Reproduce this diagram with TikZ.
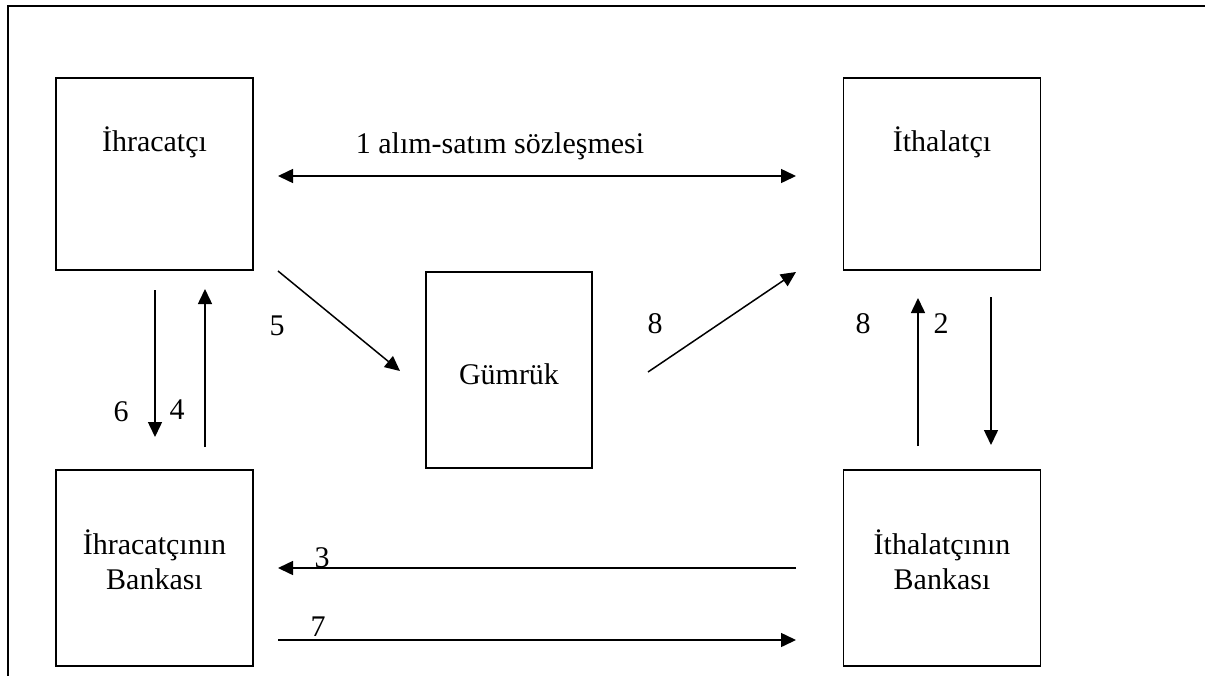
\documentclass[tikz,border=0pt]{standalone}
\usepackage{fontspec}
\setmainfont{Liberation Serif}
\usetikzlibrary{arrows.meta}
\begin{document}
\begin{tikzpicture}[x=1pt,y=-1pt,
  box/.style={draw,line width=1.9pt,minimum width=197pt,minimum height=192pt,inner sep=0pt},
  txt/.style={font=\fontsize{30}{35}\selectfont,inner sep=0pt},
  tip/.style={Triangle[length=15pt,width=14pt]},
  arr/.style={line width=1.5pt,-{Triangle[length=15pt,width=14pt]}},
  dbl/.style={line width=1.5pt,{Triangle[length=15pt,width=14pt]}-{Triangle[length=15pt,width=14pt]}}]
\useasboundingbox (0,0) rectangle (1205,675);
\clip (0,0) rectangle (1205,675);
% outer frame
\draw[line width=2pt] (8,690) -- (8,5.5) -- (1220,5.5);
% parties
\node[box] (exp) at (154.5,174) {};
\node[box] (imp) at (942,174) {};
\node[box,minimum width=166pt,minimum height=196pt] (cus) at (509,370) {};
\node[box,minimum height=196pt] (expb) at (154.5,568) {};
\node[box,minimum height=196pt] (impb) at (942,568) {};
\node[txt] (texp) at (154.5,142) {İhracatçı};
\node[txt] (timp) at (942,142) {İthalatçı};
\node[txt] (tcus) at (509,374) {Gümrük};
\node[txt,align=center] (texpb) at (154.5,560) {İhracatçının\\Bankası};
\node[txt,align=center] (timpb) at (942,560) {İthalatçının\\Bankası};
% arrow end points
\coordinate (a1) at (278,176); \coordinate (b1) at (796,176);
\coordinate (a5) at (278,271); \coordinate (b5) at (400,371);
\coordinate (a8) at (648,372); \coordinate (b8) at (796,272);
\coordinate (a6) at (155,290); \coordinate (b6) at (155,437);
\coordinate (a4) at (205,447); \coordinate (b4) at (205,289);
\coordinate (a8r) at (918,446); \coordinate (b8r) at (918,298);
\coordinate (a2) at (991,297); \coordinate (b2) at (991,445);
\coordinate (a3) at (796,568); \coordinate (b3) at (278,568);
\coordinate (a7) at (278,640); \coordinate (b7) at (796,640);
% flows
\draw[dbl] (a1) -- (b1);
\draw[arr] (a5) -- (b5);
\draw[arr] (a8) -- (b8);
\draw[arr] (a6) -- (b6);
\draw[arr] (a4) -- (b4);
\draw[arr] (a8r) -- (b8r);
\draw[arr] (a2) -- (b2);
\draw[arr] (a3) -- (b3);
\draw[arr] (a7) -- (b7);
% flow labels
\node[txt] (l1) at (500,146) {1 alım-satım sözleşmesi};
\node[txt] (l5) at (277,326) {5};
\node[txt] (l8) at (655,324) {8};
\node[txt] (l6) at (121,412) {6};
\node[txt] (l4) at (177,410) {4};
\node[txt] (l8r) at (863,324) {8};
\node[txt] (l2) at (941,324) {2};
\node[txt] (l3) at (322,558) {3};
\node[txt] (l7) at (318,627) {7};
\end{tikzpicture}
\end{document}
